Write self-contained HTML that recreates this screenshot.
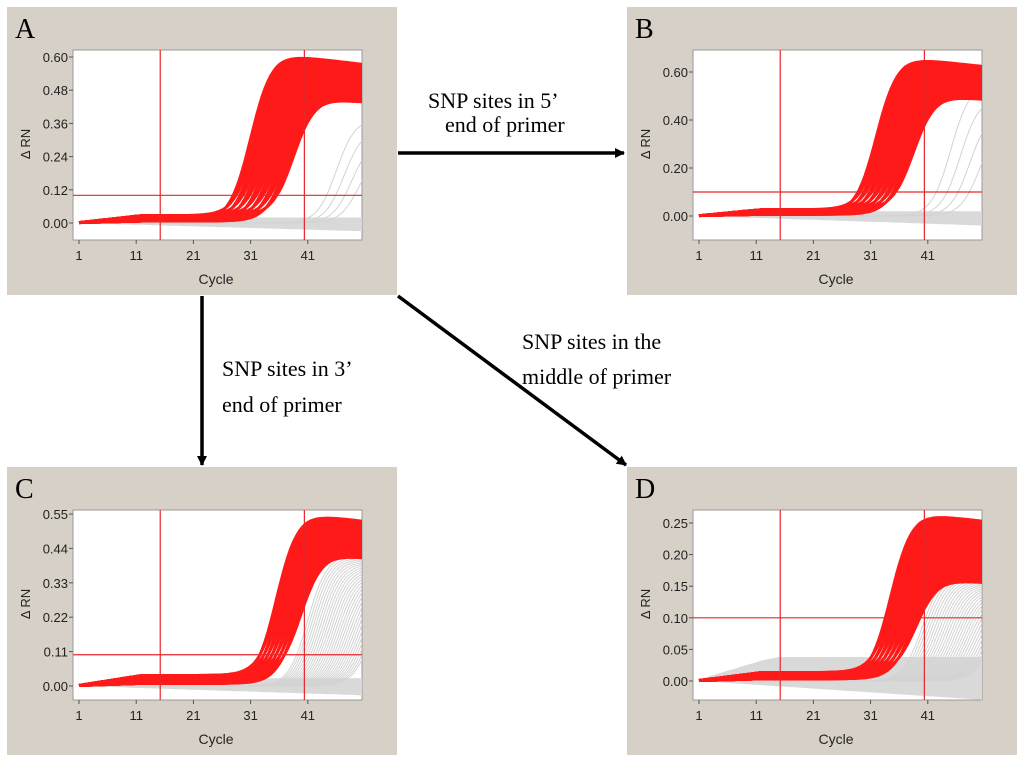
<!DOCTYPE html>
<html><head><meta charset="utf-8"><style>
body{margin:0;background:#fff;width:1024px;height:764px;overflow:hidden;font-family:"Liberation Serif",serif}
svg{position:absolute;left:0;top:0}
</style></head><body>
<svg id="s" width="1024" height="764" xmlns="http://www.w3.org/2000/svg">
<defs><marker id="ah" markerWidth="10" markerHeight="10" refX="9" refY="5" orient="auto" markerUnits="userSpaceOnUse"><path d="M0,0 L10,5 L0,10 z" fill="#000"/></marker></defs>
<g><line x1="398" y1="153" x2="624" y2="153" stroke="#000" stroke-width="3.5" marker-end="url(#ah)"/></g>
<g><line x1="202" y1="296" x2="202" y2="465" stroke="#000" stroke-width="3.5" marker-end="url(#ah)"/></g>
<g><line x1="398" y1="296" x2="626" y2="465" stroke="#000" stroke-width="3.5" marker-end="url(#ah)"/></g>
<g font-size="22" font-family="Liberation Serif, serif" fill="#000">
<text x="428" y="108">SNP sites in 5’</text>
<text x="445" y="132">end of primer</text>
<text x="222" y="376">SNP sites in 3’</text>
<text x="222" y="412">end of primer</text>
<text x="522" y="349">SNP sites in the</text>
<text x="522" y="384">middle of primer</text>
</g>
</svg>
<script>
// Panel data
const panelLetters=["A","B","C","D"];
const yTicksA=[0,0.12,0.24,0.36,0.48,0.60];
const yTicksB=[0,0.20,0.40,0.60];
const yTicksC=[0,0.11,0.22,0.33,0.44,0.55];
const yTicksD=[0,0.05,0.10,0.15,0.20,0.25];
const xTicks=[1,11,21,31,41];
const thresholds=[0.10,0.10,0.10,0.10];
const vLineCycles=[15.2,40.4];
const redCtMin=[31,32,35.5,34.5];
const redCtMax=[38.5,38.5,39.8,39];
const redPlatMin=[0.45,0.50,0.42,0.16];
const redPlatMax=[0.61,0.66,0.55,0.265];
const grayCtMin=[46,45,41,40];
const grayCtMax=[50,50,52,52];
const grayPlatMax=[0.38,0.55,0.42,0.17];
const baseLevel=[0.02,0.02,0.025,0.01];
const grayLow=[-0.03,-0.04,-0.03,-0.03];
const grayHigh=[0.0,0.0,0.0,0.028];

const NS="http://www.w3.org/2000/svg";
const svg=document.getElementById('s');
const origins=[[7,7],[627,7],[7,467],[627,467]];
const ticksAll=[yTicksA,yTicksB,yTicksC,yTicksD];
const y0off=[216,209,219,214];
const ytopoff=[50,65,47,56];
function mk(t,a,p){const e=document.createElementNS(NS,t);for(const k in a)e.setAttribute(k,a[k]);(p||svg).appendChild(e);return e;}
function sig(c,ct,plat,base,k){return base*Math.min(1,c/12)+ (plat-base)/(1+Math.exp(-(c-ct)*k));}
for(let p=0;p<4;p++){
  const [bx,by]=origins[p];const ticks=ticksAll[p];const tmax=ticks[ticks.length-1];
  const g=mk('g',{});
  
  
  const bg=mk('rect',{x:bx,y:by,width:390,height:288,fill:'#d6d0c6'},g);
  
  const L=mk('text',{x:bx+8,y:by+31,'font-size':28,'font-family':'Liberation Serif, serif'},g);
  L.textContent=panelLetters[p];
  
  const px0=bx+66,px1=bx+355,py0=by+43,py1=by+233;
  const X=c=>bx+72+(c-1)*5.72;
  const Y=v=>by+y0off[p]-(v/tmax)*(y0off[p]-ytopoff[p]);
  const cp='cp'+p;
  const defs=mk('clipPath',{id:cp},g);mk('rect',{x:px0,y:py0,width:px1-px0,height:py1-py0},defs);
  const plot=mk('rect',{x:px0,y:py0,width:px1-px0,height:py1-py0,fill:'#fff',stroke:'#999'},g);
  
  const cg=mk('g',{'clip-path':'url(#'+cp+')'},g);
  let d='';const cEnd=52;
  for(let c=1;c<=cEnd;c+=0.5){d+=(c==1?'M':'L')+X(c).toFixed(1)+','+Y(baseLevel[p]*Math.min(1,c/12)+grayHigh[p]*Math.min(1,c/15)).toFixed(1);}
  for(let c=cEnd;c>=1;c-=0.5){d+='L'+X(c).toFixed(1)+','+Y(grayLow[p]*((c-1)/50)).toFixed(1);}
  const gb=mk('path',{d:d+'Z',fill:'#d9d9d9'},cg);
  
  const NG=p>=2?30:4;
  for(let i=0;i<NG;i++){const t=i/(NG-1);const ct=grayCtMin[p]+(grayCtMax[p]-grayCtMin[p])*t;const pl=grayPlatMax[p]*(1-0.3*t);
    let s='';for(let c=1;c<=52;c+=0.5){s+=(c==1?'M':'L')+X(c).toFixed(1)+','+Y(sig(c,ct,pl,0,0.6)).toFixed(1);}
    const e=mk('path',{d:s,fill:'none',stroke:'#d3d3d3','stroke-width':1},cg);
    }
  const NR=70;
  for(let i=0;i<NR;i++){const t=i/(NR-1);const ct=redCtMin[p]+(redCtMax[p]-redCtMin[p])*t;const pl=redPlatMax[p]-(redPlatMax[p]-redPlatMin[p])*t;
    const base=baseLevel[p]*(0.3+1.2*((i*7)%NR)/NR);
    let s='';for(let c=1;c<=52;c+=0.5){let v=sig(c,ct,pl,base,0.55);if(c>ct+5)v-=0.004*(c-ct-5)*pl;s+=(c==1?'M':'L')+X(c).toFixed(1)+','+Y(v).toFixed(1);}
    const e=mk('path',{d:s,fill:'none',stroke:'#ff1a1a','stroke-width':2.5},cg);
    }
  const th=mk('line',{x1:px0,x2:px1,y1:Y(thresholds[p]),y2:Y(thresholds[p]),stroke:'#e8262a','stroke-width':1.2},g);
  
  for(const vc of vLineCycles){const v=mk('line',{x1:X(vc),x2:X(vc),y1:py0,y2:py1,stroke:'#e8262a','stroke-width':1.2},g);
    }
  for(const tv of ticks){const y=Y(tv);mk('line',{x1:px0-4,x2:px0,y1:y,y2:y,stroke:'#555'},g);
    const t=mk('text',{x:px0-5,y:y+5,'font-size':13,'text-anchor':'end','font-family':'Liberation Sans, sans-serif',fill:'#222'},g);
    t.textContent=tv.toFixed(2);}
  for(const xv of xTicks){const x=X(xv);mk('line',{x1:x,x2:x,y1:py1,y2:py1+4,stroke:'#555'},g);
    const t=mk('text',{x:x,y:py1+20,'font-size':13,'text-anchor':'middle','font-family':'Liberation Sans, sans-serif',fill:'#222'},g);
    t.textContent=xv;}
  const xt=mk('text',{x:bx+209,y:by+277,'font-size':14,'text-anchor':'middle','font-family':'Liberation Sans, sans-serif',fill:'#222'},g);
  xt.textContent='Cycle';
  const yt=mk('text',{x:0,y:0,'font-size':13,'text-anchor':'middle','font-family':'Liberation Sans, DejaVu Sans, sans-serif',fill:'#222',transform:'translate('+(bx+23)+','+(by+137)+') rotate(-90)'},g);
  yt.textContent='Δ RN';
}
</script>
</body></html>
